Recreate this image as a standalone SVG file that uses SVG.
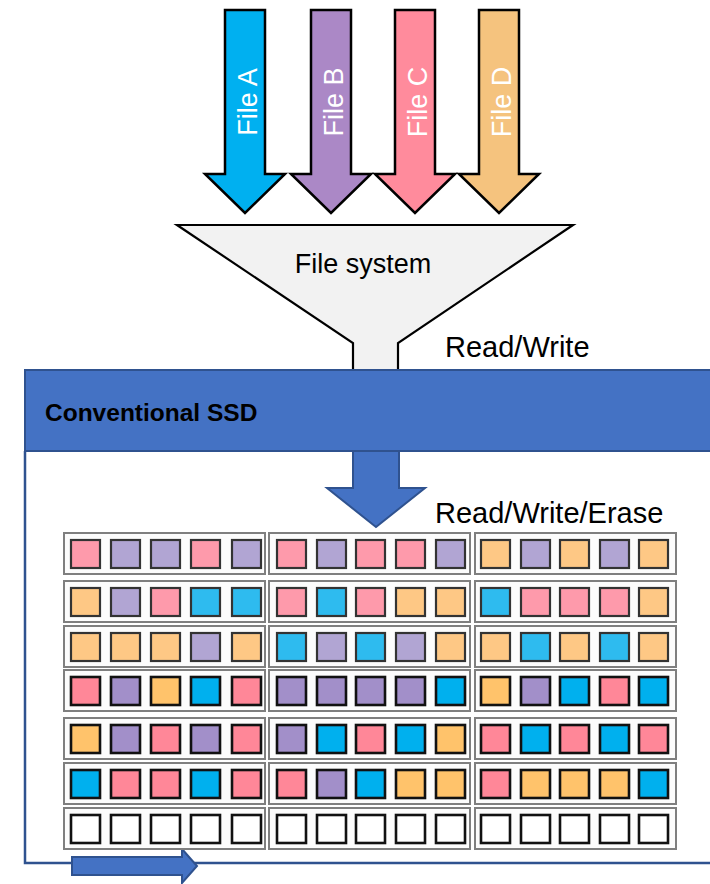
<svg xmlns="http://www.w3.org/2000/svg" width="710" height="884" viewBox="0 0 710 884">
<style>
.lbl{font-family:"Liberation Sans",Arial,sans-serif;fill:#000}
.ftxt{font-family:"Liberation Sans",Arial,sans-serif;font-size:27px;fill:#fff;text-anchor:middle}
.farrow{stroke:#000;stroke-width:2.5;stroke-linejoin:miter}
.blue{fill:#4472c4;stroke:#2f528f;stroke-width:2}
.blk{fill:#fcfcfc;stroke:#7f7f7f;stroke-width:2}
.c{stroke:#333;stroke-width:2.2}
.d{stroke:#111;stroke-width:2.6}
.P{fill:#fe9aab}.U{fill:#b1a5d3}.O{fill:#fec885}.B{fill:#2ebbef}
.p{fill:#ff8798}.u{fill:#a28fc9}.o{fill:#ffc36b}.b{fill:#00b0ee}.w{fill:#fff}
</style>
<rect width="710" height="884" fill="#fff"/>

<g id="fileA">
<path class="farrow" fill="#00b0f0" d="M225,10H265V174H285L245,213L205,174H225Z"/>
<text class="ftxt" transform="translate(257,102) rotate(-90)">File A</text>
</g>
<g id="fileB">
<path class="farrow" fill="#ab88c6" d="M311,10H351V174H371L331,213L291,174H311Z"/>
<text class="ftxt" transform="translate(343,102) rotate(-90)">File B</text>
</g>
<g id="fileC">
<path class="farrow" fill="#ff8b9c" d="M395,10H435V174H455L415,213L375,174H395Z"/>
<text class="ftxt" transform="translate(427,102) rotate(-90)">File C</text>
</g>
<g id="fileD">
<path class="farrow" fill="#f5c37e" d="M479,10H519V174H539L499,213L459,174H479Z"/>
<text class="ftxt" transform="translate(511,102) rotate(-90)">File D</text>
</g>

<g id="filesystem">
<path d="M177,225H573L398,343V372H353V343Z" fill="#f2f2f2" stroke="#000" stroke-width="2.2"/>
<text class="lbl" x="363" y="273" font-size="27" text-anchor="middle">File system</text>
</g>
<text class="lbl" x="445" y="357" font-size="29">Read/Write</text>

<g id="ssd">
<path d="M25,451V863H712" fill="none" stroke="#2f528f" stroke-width="2.5"/>
<rect class="blue" x="25" y="370" width="700" height="81"/>
<text class="lbl" x="45" y="421" font-size="24.5" font-weight="bold">Conventional SSD</text>
</g>

<g id="connectors">
<path class="blue" stroke-width="1.5" d="M353,451H399V488H425L376,527L327,488H353Z"/>
<path class="blue" stroke-width="1.5" d="M72,857H182V849L197,866L182,883V875H72Z"/>
</g>
<text class="lbl" x="435" y="523" font-size="29">Read/Write/Erase</text>

<g id="grid">
<g id="row1">
<rect class="blk" x="64" y="533" width="201" height="41"/>
<rect class="blk" x="269" y="533" width="201" height="41"/>
<rect class="blk" x="475" y="533" width="201" height="41"/>
<rect class="c P" x="71" y="540" width="29" height="28"/><rect class="c U" x="111" y="540" width="29" height="28"/><rect class="c U" x="151" y="540" width="29" height="28"/><rect class="c P" x="191" y="540" width="29" height="28"/><rect class="c U" x="232" y="540" width="29" height="28"/>
<rect class="c P" x="277" y="540" width="29" height="28"/><rect class="c U" x="317" y="540" width="29" height="28"/><rect class="c P" x="356" y="540" width="29" height="28"/><rect class="c P" x="396" y="540" width="29" height="28"/><rect class="c U" x="436" y="540" width="29" height="28"/>
<rect class="c O" x="481" y="540" width="29" height="28"/><rect class="c U" x="521" y="540" width="29" height="28"/><rect class="c O" x="560" y="540" width="29" height="28"/><rect class="c U" x="600" y="540" width="29" height="28"/><rect class="c O" x="639" y="540" width="29" height="28"/>
</g>
<g id="row2">
<rect class="blk" x="64" y="581" width="201" height="41"/>
<rect class="blk" x="269" y="581" width="201" height="41"/>
<rect class="blk" x="475" y="581" width="201" height="41"/>
<rect class="c O" x="71" y="588" width="29" height="28"/><rect class="c U" x="111" y="588" width="29" height="28"/><rect class="c P" x="151" y="588" width="29" height="28"/><rect class="c B" x="191" y="588" width="29" height="28"/><rect class="c B" x="232" y="588" width="29" height="28"/>
<rect class="c P" x="277" y="588" width="29" height="28"/><rect class="c B" x="317" y="588" width="29" height="28"/><rect class="c P" x="356" y="588" width="29" height="28"/><rect class="c O" x="396" y="588" width="29" height="28"/><rect class="c O" x="436" y="588" width="29" height="28"/>
<rect class="c B" x="481" y="588" width="29" height="28"/><rect class="c P" x="521" y="588" width="29" height="28"/><rect class="c P" x="560" y="588" width="29" height="28"/><rect class="c P" x="600" y="588" width="29" height="28"/><rect class="c O" x="639" y="588" width="29" height="28"/>
</g>
<g id="row3">
<rect class="blk" x="64" y="626" width="201" height="41"/>
<rect class="blk" x="269" y="626" width="201" height="41"/>
<rect class="blk" x="475" y="626" width="201" height="41"/>
<rect class="c O" x="71" y="633" width="29" height="28"/><rect class="c O" x="111" y="633" width="29" height="28"/><rect class="c O" x="151" y="633" width="29" height="28"/><rect class="c U" x="191" y="633" width="29" height="28"/><rect class="c O" x="232" y="633" width="29" height="28"/>
<rect class="c B" x="277" y="633" width="29" height="28"/><rect class="c U" x="317" y="633" width="29" height="28"/><rect class="c B" x="356" y="633" width="29" height="28"/><rect class="c U" x="396" y="633" width="29" height="28"/><rect class="c O" x="436" y="633" width="29" height="28"/>
<rect class="c O" x="481" y="633" width="29" height="28"/><rect class="c B" x="521" y="633" width="29" height="28"/><rect class="c O" x="560" y="633" width="29" height="28"/><rect class="c B" x="600" y="633" width="29" height="28"/><rect class="c O" x="639" y="633" width="29" height="28"/>
</g>
<g id="row4">
<rect class="blk" x="64" y="670" width="201" height="41"/>
<rect class="blk" x="269" y="670" width="201" height="41"/>
<rect class="blk" x="475" y="670" width="201" height="41"/>
<rect class="d p" x="71" y="677" width="29" height="28"/><rect class="d u" x="111" y="677" width="29" height="28"/><rect class="d o" x="151" y="677" width="29" height="28"/><rect class="d b" x="191" y="677" width="29" height="28"/><rect class="d p" x="232" y="677" width="29" height="28"/>
<rect class="d u" x="277" y="677" width="29" height="28"/><rect class="d u" x="317" y="677" width="29" height="28"/><rect class="d u" x="356" y="677" width="29" height="28"/><rect class="d u" x="396" y="677" width="29" height="28"/><rect class="d b" x="436" y="677" width="29" height="28"/>
<rect class="d o" x="481" y="677" width="29" height="28"/><rect class="d u" x="521" y="677" width="29" height="28"/><rect class="d b" x="560" y="677" width="29" height="28"/><rect class="d p" x="600" y="677" width="29" height="28"/><rect class="d b" x="639" y="677" width="29" height="28"/>
</g>
<g id="row5">
<rect class="blk" x="64" y="718" width="201" height="41"/>
<rect class="blk" x="269" y="718" width="201" height="41"/>
<rect class="blk" x="475" y="718" width="201" height="41"/>
<rect class="d o" x="71" y="725" width="29" height="28"/><rect class="d u" x="111" y="725" width="29" height="28"/><rect class="d p" x="151" y="725" width="29" height="28"/><rect class="d u" x="191" y="725" width="29" height="28"/><rect class="d p" x="232" y="725" width="29" height="28"/>
<rect class="d u" x="277" y="725" width="29" height="28"/><rect class="d b" x="317" y="725" width="29" height="28"/><rect class="d p" x="356" y="725" width="29" height="28"/><rect class="d b" x="396" y="725" width="29" height="28"/><rect class="d o" x="436" y="725" width="29" height="28"/>
<rect class="d p" x="481" y="725" width="29" height="28"/><rect class="d b" x="521" y="725" width="29" height="28"/><rect class="d p" x="560" y="725" width="29" height="28"/><rect class="d b" x="600" y="725" width="29" height="28"/><rect class="d p" x="639" y="725" width="29" height="28"/>
</g>
<g id="row6">
<rect class="blk" x="64" y="763" width="201" height="41"/>
<rect class="blk" x="269" y="763" width="201" height="41"/>
<rect class="blk" x="475" y="763" width="201" height="41"/>
<rect class="d b" x="71" y="770" width="29" height="28"/><rect class="d p" x="111" y="770" width="29" height="28"/><rect class="d p" x="151" y="770" width="29" height="28"/><rect class="d b" x="191" y="770" width="29" height="28"/><rect class="d p" x="232" y="770" width="29" height="28"/>
<rect class="d p" x="277" y="770" width="29" height="28"/><rect class="d u" x="317" y="770" width="29" height="28"/><rect class="d b" x="356" y="770" width="29" height="28"/><rect class="d o" x="396" y="770" width="29" height="28"/><rect class="d o" x="436" y="770" width="29" height="28"/>
<rect class="d p" x="481" y="770" width="29" height="28"/><rect class="d o" x="521" y="770" width="29" height="28"/><rect class="d o" x="560" y="770" width="29" height="28"/><rect class="d o" x="600" y="770" width="29" height="28"/><rect class="d b" x="639" y="770" width="29" height="28"/>
</g>
<g id="row7">
<rect class="blk" x="64" y="808" width="201" height="41"/>
<rect class="blk" x="269" y="808" width="201" height="41"/>
<rect class="blk" x="475" y="808" width="201" height="41"/>
<rect class="d w" x="71" y="815" width="29" height="28"/><rect class="d w" x="111" y="815" width="29" height="28"/><rect class="d w" x="151" y="815" width="29" height="28"/><rect class="d w" x="191" y="815" width="29" height="28"/><rect class="d w" x="232" y="815" width="29" height="28"/>
<rect class="d w" x="277" y="815" width="29" height="28"/><rect class="d w" x="317" y="815" width="29" height="28"/><rect class="d w" x="356" y="815" width="29" height="28"/><rect class="d w" x="396" y="815" width="29" height="28"/><rect class="d w" x="436" y="815" width="29" height="28"/>
<rect class="d w" x="481" y="815" width="29" height="28"/><rect class="d w" x="521" y="815" width="29" height="28"/><rect class="d w" x="560" y="815" width="29" height="28"/><rect class="d w" x="600" y="815" width="29" height="28"/><rect class="d w" x="639" y="815" width="29" height="28"/>
</g>
</g>
</svg>
